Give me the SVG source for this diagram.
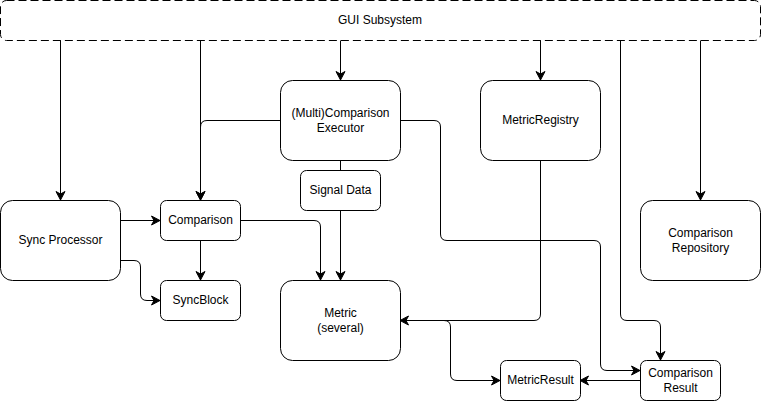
<svg xmlns="http://www.w3.org/2000/svg" width="762" height="401" viewBox="0 0 762 401">
<style>
.box{fill:#fff;stroke:#000;stroke-width:1}
.gui{fill:#fff;stroke:#000;stroke-width:1;stroke-dasharray:8 4}
.t{font-family:"Liberation Sans",Arial,sans-serif;font-size:12px;fill:#000;text-anchor:middle}
.e{fill:none;stroke:#000;stroke-width:1}
.ea{fill:none;stroke:#000;stroke-width:1;marker-end:url(#arr)}
</style>
<defs>
<marker id="arr" viewBox="-10 -6 11 12" refX="0" refY="0" markerWidth="11" markerHeight="12" markerUnits="userSpaceOnUse" orient="auto">
<path d="M0,0 L-8.5,-4.5 L-6,0 L-8.5,4.5 Z" fill="#000" stroke="#000" stroke-width="1" stroke-linejoin="miter"/>
</marker>
</defs>
<g id="gui">
<rect class="gui" x="0.5" y="0.5" width="760" height="40" rx="6"/>
<text class="t" x="380" y="24">GUI Subsystem</text>
</g>
<g id="connectors">
<path class="ea" d="M60.5,40.5 V200"/>
<path class="ea" d="M200.5,40.5 V200"/>
<path class="ea" d="M340.5,40.5 V80"/>
<path class="ea" d="M540.5,40.5 V80"/>
<path class="ea" d="M620.5,40.5 V314 Q620.5,320.5 627,320.5 H654 Q660.5,320.5 660.5,327 V360"/>
<path class="ea" d="M700.5,40.5 V200"/>
<path class="ea" d="M280,120.5 H207 Q200.5,120.5 200.5,127 V200"/>
<path class="ea" d="M400,120.5 H434 Q440.5,120.5 440.5,127 V234 Q440.5,240.5 447,240.5 H594 Q600.5,240.5 600.5,247 V364 Q600.5,370.5 607,370.5 H640"/>
<path class="e" d="M340.5,160 V170"/>
<path class="ea" d="M340.5,210 V280"/>
<path class="ea" d="M240,220.5 H314 Q320.5,220.5 320.5,227 V280"/>
<path class="ea" d="M120,220.5 H160"/>
<path class="ea" d="M120,260.5 H134 Q140.5,260.5 140.5,267 V294 Q140.5,300.5 147,300.5 H160"/>
<path class="ea" d="M200.5,240 V280"/>
<path class="ea" d="M540.5,160 V314 Q540.5,320.5 534,320.5 H400"/>
<path class="ea" d="M400,320.5 H444 Q450.5,320.5 450.5,327 V374 Q450.5,380.5 457,380.5 H500"/>
<path class="ea" d="M640,380.5 H580"/>
</g>
<g id="executor">
<rect class="box" x="280.5" y="80.5" width="120" height="80" rx="12"/>
<text class="t" x="340.5" y="117">(Multi)Comparison</text>
<text class="t" x="340.5" y="132">Executor</text>
</g>
<g id="metricregistry">
<rect class="box" x="480.5" y="80.5" width="120" height="80" rx="12"/>
<text class="t" x="540.5" y="124">MetricRegistry</text>
</g>
<g id="signaldata">
<rect class="box" x="300.5" y="170.5" width="80" height="40" rx="6"/>
<text class="t" x="340.5" y="194">Signal Data</text>
</g>
<g id="syncprocessor">
<rect class="box" x="0.5" y="200.5" width="120" height="80" rx="12"/>
<text class="t" x="60.5" y="244">Sync Processor</text>
</g>
<g id="comparison">
<rect class="box" x="160.5" y="200.5" width="80" height="40" rx="6"/>
<text class="t" x="200.5" y="224">Comparison</text>
</g>
<g id="syncblock">
<rect class="box" x="160.5" y="280.5" width="80" height="40" rx="6"/>
<text class="t" x="200.5" y="304">SyncBlock</text>
</g>
<g id="metric">
<rect class="box" x="280.5" y="280.5" width="120" height="80" rx="12"/>
<text class="t" x="340.5" y="317">Metric</text>
<text class="t" x="340.5" y="332">(several)</text>
</g>
<g id="comparisonrepository">
<rect class="box" x="640.5" y="200.5" width="120" height="80" rx="12"/>
<text class="t" x="700.5" y="237">Comparison</text>
<text class="t" x="700.5" y="252">Repository</text>
</g>
<g id="metricresult">
<rect class="box" x="500.5" y="360.5" width="80" height="40" rx="6"/>
<text class="t" x="540.5" y="384">MetricResult</text>
</g>
<g id="comparisonresult">
<rect class="box" x="640.5" y="360.5" width="80" height="40" rx="6"/>
<text class="t" x="680.5" y="377">Comparison</text>
<text class="t" x="680.5" y="392">Result</text>
</g>
</svg>
